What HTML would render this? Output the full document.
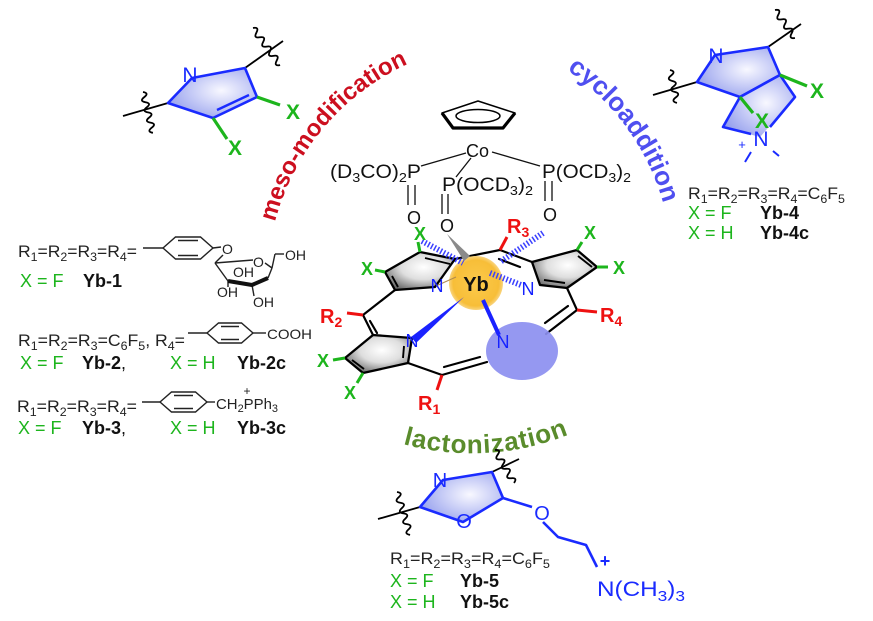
<!DOCTYPE html>
<html><head><meta charset="utf-8">
<style>
html,body{margin:0;padding:0;background:#fff;}
svg{display:block;}
</style></head>
<body>
<svg width="873" height="621" viewBox="0 0 873 621" xmlns="http://www.w3.org/2000/svg" font-family="'Liberation Sans', Arial, sans-serif">
<defs>
<radialGradient id="gp" cx="0.55" cy="0.4" r="0.65">
<stop offset="0" stop-color="#ffffff"/><stop offset="0.5" stop-color="#dedede"/><stop offset="1" stop-color="#6a6a6a"/>
</radialGradient>
<radialGradient id="bf" cx="0.6" cy="0.45" r="0.7">
<stop offset="0" stop-color="#f8f8ff"/><stop offset="1" stop-color="#8e99ec"/>
</radialGradient>
<radialGradient id="yb" cx="0.5" cy="0.5" r="0.5">
<stop offset="0" stop-color="#fcca4c"/><stop offset="0.85" stop-color="#f7be38"/><stop offset="1" stop-color="#f9d47e"/>
</radialGradient>
<path id="pm" d="M275,222 A240,240 0 0 1 408,64"/>
<path id="pc" d="M567,70 A240,240 0 0 1 664,206"/>
<path id="pl" d="M403,444 A260,260 0 0 0 570,434"/>
</defs>
<rect width="873" height="621" fill="#fff"/>

<!-- ===== Arc labels ===== -->
<text font-size="24" font-weight="bold" fill="#cc0f1f"><textPath href="#pm">meso-modification</textPath></text>
<text font-size="26" font-weight="bold" fill="#4f4ff0"><textPath href="#pc">cycloaddition</textPath></text>
<text font-size="26" font-weight="bold" fill="#5a8c2c" letter-spacing="0.8"><textPath href="#pl">lactonization</textPath></text>

<!-- ===== Top-left fragment ===== -->
<g stroke="#000" stroke-width="1.8" fill="none">
<line x1="245" y1="68" x2="283" y2="41"/>
<line x1="168" y1="103" x2="123" y2="116"/>
<path transform="translate(253,28) rotate(53.9)" d="M0,0 q2.875,-6 5.75,0 t5.75,0 t5.75,0 t5.75,0 t5.75,0 t5.75,0 t5.75,0 t5.75,0"/>
<path transform="translate(143,92) rotate(76.3)" d="M0,0 q2.6,-6 5.25,0 t5.25,0 t5.25,0 t5.25,0 t5.25,0 t5.25,0 t5.25,0 t5.25,0"/>
</g>
<polygon points="168,103 192,78 245,68 257,97 213,118" fill="url(#bf)" stroke="#1a2bff" stroke-width="2.6" stroke-linejoin="round"/>
<line x1="217" y1="110" x2="249" y2="95" stroke="#1a2bff" stroke-width="2.4"/>
<g stroke="#1db51d" stroke-width="3.2">
<line x1="257" y1="97" x2="280" y2="105"/>
<line x1="213" y1="118" x2="227" y2="139"/>
</g>
<text x="190" y="82" font-size="21" fill="#1a2bff" text-anchor="middle">N</text>
<text x="293" y="119" font-size="21" font-weight="bold" fill="#1db51d" text-anchor="middle">X</text>
<text x="235" y="155" font-size="21" font-weight="bold" fill="#1db51d" text-anchor="middle">X</text>

<!-- ===== Top-right fragment ===== -->
<g stroke="#000" stroke-width="1.8" fill="none">
<line x1="768" y1="47" x2="801" y2="24"/>
<line x1="697" y1="82" x2="653" y2="95"/>
<path transform="translate(775,10) rotate(54.5)" d="M0,0 q2.86,-6 5.73,0 t5.73,0 t5.73,0 t5.73,0 t5.73,0 t5.73,0"/>
<path transform="translate(670,70) rotate(78)" d="M0,0 q2.8,-6 5.6,0 t5.6,0 t5.6,0 t5.6,0 t5.6,0 t5.6,0"/>
</g>
<polygon points="697,82 715,55 768,47 780,75 740,97" fill="url(#bf)" stroke="#1a2bff" stroke-width="2.6" stroke-linejoin="round"/>
<polygon points="740,97 723,127 760,137 795,97 780,75" fill="url(#bf)" stroke="none"/>
<g stroke="#1a2bff" stroke-width="2.6" fill="none" stroke-linejoin="round">
<polyline points="751,134 723,127 740,97 780,75 795,97 770,127"/>
</g>
<g stroke="#1db51d" stroke-width="3.2">
<line x1="780" y1="75" x2="807" y2="86"/>
<line x1="740" y1="97" x2="753" y2="113"/>
</g>
<text x="716" y="63" font-size="21" fill="#1a2bff" text-anchor="middle">N</text>
<text x="761" y="146" font-size="21" fill="#1a2bff" text-anchor="middle">N</text>
<text x="742" y="149" font-size="13" fill="#1a2bff" text-anchor="middle">+</text>
<g stroke="#1a2bff" stroke-width="2">
<line x1="751" y1="152" x2="745" y2="162"/>
<line x1="773" y1="151" x2="779" y2="156"/>
</g>
<text x="817" y="98" font-size="21" font-weight="bold" fill="#1db51d" text-anchor="middle">X</text>
<text x="762" y="128" font-size="21" font-weight="bold" fill="#1db51d" text-anchor="middle">X</text>

<text x="688" y="199" font-size="17" fill="#222" textLength="157" lengthAdjust="spacingAndGlyphs">R<tspan dy="4" font-size="12">1</tspan><tspan dy="-4">=R</tspan><tspan dy="4" font-size="12">2</tspan><tspan dy="-4">=R</tspan><tspan dy="4" font-size="12">3</tspan><tspan dy="-4">=R</tspan><tspan dy="4" font-size="12">4</tspan><tspan dy="-4">=C</tspan><tspan dy="4" font-size="12">6</tspan><tspan dy="-4">F</tspan><tspan dy="4" font-size="12">5</tspan></text>
<text x="688" y="219" font-size="18" fill="#1db51d">X = F</text>
<text x="760" y="219" font-size="18" font-weight="bold" fill="#111">Yb-4</text>
<text x="688" y="239" font-size="18" fill="#1db51d">X = H</text>
<text x="760" y="239" font-size="18" font-weight="bold" fill="#111">Yb-4c</text>

<!-- ===== Bottom fragment ===== -->
<g stroke="#000" stroke-width="1.8" fill="none">
<line x1="492" y1="472" x2="519" y2="459"/>
<line x1="420" y1="507" x2="378" y2="519"/>
<path transform="translate(495,450) rotate(60)" d="M0,0 q2.7,-6 5.43,0 t5.43,0 t5.43,0 t5.43,0 t5.43,0 t5.43,0 t5.43,0"/>
<path transform="translate(397,492) rotate(73)" d="M0,0 q2.8,-6 5.6,0 t5.6,0 t5.6,0 t5.6,0 t5.6,0 t5.6,0 t5.6,0 t5.6,0"/>
</g>
<polygon points="420,507 443,480 492,472 503,498 463,522" fill="url(#bf)" stroke="#1a2bff" stroke-width="2.6" stroke-linejoin="round"/>
<polyline points="503,498 532,507" stroke="#1a2bff" stroke-width="2.6" fill="none"/>
<polyline points="543,522 558,537 586,545 597,567" stroke="#1a2bff" stroke-width="2.6" fill="none" stroke-linejoin="round"/>
<text x="440" y="487" font-size="20" fill="#1a2bff" text-anchor="middle">N</text>
<text x="464" y="528" font-size="20" fill="#1a2bff" text-anchor="middle">O</text>
<text x="542" y="520" font-size="20" fill="#1a2bff" text-anchor="middle">O</text>
<text x="605" y="567" font-size="18" font-weight="bold" fill="#1a2bff" text-anchor="middle">+</text>
<text x="597" y="596" font-size="21" fill="#1a2bff" textLength="88" lengthAdjust="spacingAndGlyphs">N(CH<tspan dy="5" font-size="15">3</tspan><tspan dy="-5">)</tspan><tspan dy="5" font-size="15">3</tspan></text>

<text x="390" y="564" font-size="17" fill="#222" textLength="160" lengthAdjust="spacingAndGlyphs">R<tspan dy="4" font-size="12">1</tspan><tspan dy="-4">=R</tspan><tspan dy="4" font-size="12">2</tspan><tspan dy="-4">=R</tspan><tspan dy="4" font-size="12">3</tspan><tspan dy="-4">=R</tspan><tspan dy="4" font-size="12">4</tspan><tspan dy="-4">=C</tspan><tspan dy="4" font-size="12">6</tspan><tspan dy="-4">F</tspan><tspan dy="4" font-size="12">5</tspan></text>
<text x="390" y="587" font-size="18" fill="#1db51d">X = F</text>
<text x="460" y="587" font-size="18" font-weight="bold" fill="#111">Yb-5</text>
<text x="390" y="608" font-size="18" fill="#1db51d">X = H</text>
<text x="460" y="608" font-size="18" font-weight="bold" fill="#111">Yb-5c</text>

<!-- ===== Left text block ===== -->
<text x="18" y="257" font-size="17" fill="#222" textLength="119" lengthAdjust="spacingAndGlyphs">R<tspan dy="4" font-size="12">1</tspan><tspan dy="-4">=R</tspan><tspan dy="4" font-size="12">2</tspan><tspan dy="-4">=R</tspan><tspan dy="4" font-size="12">3</tspan><tspan dy="-4">=R</tspan><tspan dy="4" font-size="12">4</tspan><tspan dy="-4">=</tspan></text>
<g stroke="#222" stroke-width="1.4" fill="none">
<line x1="143" y1="248" x2="163" y2="248"/>
<polygon points="163,248 175.5,237 200.5,237 213,248 200.5,259 175.5,259"/>
<line x1="178" y1="240.5" x2="198" y2="240.5"/>
<line x1="178" y1="255.5" x2="198" y2="255.5"/>
<line x1="213" y1="248" x2="221" y2="247"/>
<line x1="223" y1="255" x2="215" y2="263"/>
<line x1="215" y1="263" x2="253" y2="260"/>
<line x1="265" y1="263" x2="272" y2="268"/>
<line x1="272" y1="268" x2="268" y2="278"/>
<line x1="272" y1="268" x2="275" y2="254"/>
<line x1="275" y1="254" x2="284" y2="254"/>
<line x1="228" y1="281" x2="228" y2="287"/>
<line x1="252" y1="285" x2="254" y2="296"/>
<line x1="215" y1="263" x2="228" y2="281"/>
</g>
<polyline points="228,281 252,285 268,278" stroke="#111" stroke-width="4" fill="none" stroke-linejoin="round"/>
<g font-size="14" fill="#222">
<text x="222" y="254">O</text>
<text x="253" y="267">O</text>
<text x="285" y="260">OH</text>
<text x="233" y="277">OH</text>
<text x="217" y="297">OH</text>
<text x="253" y="307">OH</text>
</g>
<text x="20" y="287" font-size="18" fill="#1db51d">X = F</text>
<text x="83" y="287" font-size="18" font-weight="bold" fill="#111">Yb-1</text>

<text x="18" y="346" font-size="17" fill="#222" textLength="167" lengthAdjust="spacingAndGlyphs">R<tspan dy="4" font-size="12">1</tspan><tspan dy="-4">=R</tspan><tspan dy="4" font-size="12">2</tspan><tspan dy="-4">=R</tspan><tspan dy="4" font-size="12">3</tspan><tspan dy="-4">=C</tspan><tspan dy="4" font-size="12">6</tspan><tspan dy="-4">F</tspan><tspan dy="4" font-size="12">5</tspan><tspan dy="-4">, R</tspan><tspan dy="4" font-size="12">4</tspan><tspan dy="-4">=</tspan></text>
<g stroke="#222" stroke-width="1.4" fill="none">
<line x1="188" y1="333" x2="207" y2="333"/>
<polygon points="207,333 218.5,323 241.5,323 253,333 241.5,343 218.5,343"/>
<line x1="221" y1="326.5" x2="239" y2="326.5"/>
<line x1="221" y1="339.5" x2="239" y2="339.5"/>
<line x1="253" y1="333" x2="266" y2="333"/>
</g>
<text x="267" y="339" font-size="14" fill="#222" textLength="45" lengthAdjust="spacingAndGlyphs">COOH</text>
<text x="20" y="369" font-size="18" fill="#1db51d">X = F</text>
<text x="82" y="369" font-size="18" font-weight="bold" fill="#111">Yb-2<tspan font-weight="normal">,</tspan></text>
<text x="170" y="369" font-size="18" fill="#1db51d">X = H</text>
<text x="237" y="369" font-size="18" font-weight="bold" fill="#111">Yb-2c</text>

<text x="17" y="412" font-size="17" fill="#222" textLength="120" lengthAdjust="spacingAndGlyphs">R<tspan dy="4" font-size="12">1</tspan><tspan dy="-4">=R</tspan><tspan dy="4" font-size="12">2</tspan><tspan dy="-4">=R</tspan><tspan dy="4" font-size="12">3</tspan><tspan dy="-4">=R</tspan><tspan dy="4" font-size="12">4</tspan><tspan dy="-4">=</tspan></text>
<g stroke="#222" stroke-width="1.4" fill="none">
<line x1="142" y1="402" x2="160" y2="402"/>
<polygon points="160,402 171.5,392 195.5,392 207,402 195.5,412 171.5,412"/>
<line x1="174" y1="395.5" x2="193" y2="395.5"/>
<line x1="174" y1="408.5" x2="193" y2="408.5"/>
<line x1="207" y1="402" x2="215" y2="402"/>
</g>
<text x="216" y="409" font-size="15" fill="#222" textLength="62" lengthAdjust="spacingAndGlyphs">CH<tspan dy="3" font-size="11">2</tspan><tspan dy="-3">PPh</tspan><tspan dy="3" font-size="11">3</tspan></text>
<text x="247" y="395" font-size="12" fill="#222" text-anchor="middle">+</text>
<text x="18" y="434" font-size="18" fill="#1db51d">X = F</text>
<text x="82" y="434" font-size="18" font-weight="bold" fill="#111">Yb-3<tspan font-weight="normal">,</tspan></text>
<text x="170" y="434" font-size="18" fill="#1db51d">X = H</text>
<text x="237" y="434" font-size="18" font-weight="bold" fill="#111">Yb-3c</text>

<!-- ===== Central complex: Cp-Co-phosphonates ===== -->
<polygon points="478,101 515,113 503,128 453,128 442,113" fill="#fff" stroke="#000" stroke-width="1.5" stroke-linejoin="round"/>
<polyline points="442,113 453,128 503,128 515,113" fill="none" stroke="#000" stroke-width="3.2" stroke-linejoin="round"/>
<ellipse cx="478" cy="116" rx="22" ry="6.5" fill="none" stroke="#000" stroke-width="1.5"/>
<text x="466" y="157" font-size="18" fill="#111">Co</text>
<g stroke="#111" stroke-width="1.3">
<line x1="466" y1="153" x2="421" y2="166"/>
<line x1="492" y1="152" x2="540" y2="166"/>
<line x1="471" y1="158" x2="456" y2="177"/>
<line x1="408" y1="185" x2="408" y2="205"/>
<line x1="415" y1="185" x2="415" y2="205"/>
<line x1="442" y1="194" x2="442" y2="214"/>
<line x1="448" y1="194" x2="448" y2="214"/>
<line x1="545" y1="181" x2="545" y2="201"/>
<line x1="552" y1="181" x2="552" y2="201"/>
</g>
<text x="330" y="178" font-size="19" fill="#111" textLength="91" lengthAdjust="spacingAndGlyphs">(D<tspan dy="4" font-size="13">3</tspan><tspan dy="-4">CO)</tspan><tspan dy="4" font-size="13">2</tspan><tspan dy="-4">P</tspan></text>
<text x="442" y="191" font-size="19" fill="#111" textLength="91" lengthAdjust="spacingAndGlyphs">P(OCD<tspan dy="4" font-size="13">3</tspan><tspan dy="-4">)</tspan><tspan dy="4" font-size="13">2</tspan></text>
<text x="542" y="178" font-size="19" fill="#111" textLength="89" lengthAdjust="spacingAndGlyphs">P(OCD<tspan dy="4" font-size="13">3</tspan><tspan dy="-4">)</tspan><tspan dy="4" font-size="13">2</tspan></text>
<text x="414" y="224" font-size="18" fill="#111" text-anchor="middle">O</text>
<text x="447" y="232" font-size="18" fill="#111" text-anchor="middle">O</text>
<text x="550" y="221" font-size="18" fill="#111" text-anchor="middle">O</text>

<!-- ===== Porphyrin skeleton ===== -->
<g stroke="#000" stroke-width="2.2" fill="none" stroke-linecap="round">
<line x1="455" y1="259" x2="500" y2="250"/>
<line x1="500" y1="250" x2="532" y2="262"/>
<line x1="499" y1="259" x2="520" y2="267"/>
<line x1="395" y1="290" x2="363" y2="315"/>
<line x1="363" y1="315" x2="373" y2="335"/>
<line x1="370" y1="321" x2="377" y2="333"/>
<line x1="408" y1="363" x2="442" y2="375"/>
<line x1="442" y1="375" x2="487" y2="362"/>
<line x1="444" y1="367" x2="480" y2="357"/>
<line x1="567" y1="288" x2="577" y2="310"/>
<line x1="577" y1="310" x2="546" y2="334"/>
<line x1="568" y1="306" x2="545" y2="323"/>
</g>
<polygon points="385,272 420,252 455,259 435,287 395,290" fill="url(#gp)" stroke="#000" stroke-width="2.3" stroke-linejoin="round"/>
<line x1="425" y1="258" x2="450" y2="264" stroke="#000" stroke-width="1.9"/>
<line x1="392" y1="276" x2="398" y2="287" stroke="#000" stroke-width="1.9"/>
<polygon points="532,262 577,250 597,267 567,288 540,285" fill="url(#gp)" stroke="#000" stroke-width="2.3" stroke-linejoin="round"/>
<line x1="578" y1="256" x2="592" y2="267" stroke="#000" stroke-width="1.9"/>
<line x1="544" y1="280" x2="565" y2="283" stroke="#000" stroke-width="1.9"/>
<polygon points="373,335 412,338 408,363 363,373 345,358" fill="url(#gp)" stroke="#000" stroke-width="2.3" stroke-linejoin="round"/>
<line x1="352" y1="360" x2="364" y2="369" stroke="#000" stroke-width="1.9"/>
<line x1="404" y1="346" x2="403" y2="358" stroke="#000" stroke-width="1.9"/>

<g stroke="#1db51d" stroke-width="3">
<line x1="385" y1="272" x2="375" y2="270"/>
<line x1="420" y1="252" x2="418" y2="242"/>
<line x1="577" y1="250" x2="582" y2="242"/>
<line x1="597" y1="267" x2="608" y2="267"/>
<line x1="345" y1="358" x2="333" y2="360"/>
<line x1="363" y1="373" x2="357" y2="383"/>
</g>
<g stroke="#ee1111" stroke-width="3">
<line x1="500" y1="250" x2="507" y2="237"/>
<line x1="363" y1="315" x2="347" y2="313"/>
<line x1="442" y1="375" x2="437" y2="390"/>
<line x1="577" y1="310" x2="597" y2="312"/>
</g>

<ellipse cx="522" cy="351" rx="36" ry="29" fill="#8c8ff0" opacity="0.92"/>

<circle cx="476" cy="283" r="27" fill="url(#yb)"/>
<line x1="436" y1="286" x2="456" y2="277" stroke="#b08a50" stroke-width="1"/>

<line x1="422" y1="241" x2="463" y2="263" stroke="#3a40ff" stroke-width="6" stroke-dasharray="1.5 2"/>
<line x1="543" y1="233" x2="500" y2="262" stroke="#3a40ff" stroke-width="6" stroke-dasharray="1.5 2"/>
<line x1="490" y1="273" x2="521" y2="285" stroke="#3a40ff" stroke-width="6" stroke-dasharray="1.5 2"/>
<polygon points="447,234 464,261 470,256" fill="#8a8a8a"/>
<polygon points="464,297 416,343 411,337" fill="#1a22ff"/>
<line x1="483" y1="300" x2="499" y2="335" stroke="#1a22ff" stroke-width="4"/>

<text x="476" y="291" font-size="20" font-weight="bold" fill="#111" text-anchor="middle">Yb</text>

<g font-size="18" fill="#1522ff" text-anchor="middle">
<text x="437" y="292">N</text>
<text x="528" y="295">N</text>
<text x="412" y="347">N</text>
<text x="503" y="348">N</text>
</g>

<g font-size="18" font-weight="bold" fill="#1db51d" text-anchor="middle">
<text x="367" y="275">X</text>
<text x="420" y="240">X</text>
<text x="590" y="239">X</text>
<text x="619" y="274">X</text>
<text x="323" y="367">X</text>
<text x="350" y="399">X</text>
</g>

<g font-size="20" font-weight="bold" fill="#ee1111">
<text x="507" y="233">R<tspan dy="4" font-size="14">3</tspan></text>
<text x="320" y="323">R<tspan dy="4" font-size="14">2</tspan></text>
<text x="600" y="322">R<tspan dy="4" font-size="14">4</tspan></text>
<text x="418" y="410">R<tspan dy="4" font-size="14">1</tspan></text>
</g>
</svg>
</body></html>
